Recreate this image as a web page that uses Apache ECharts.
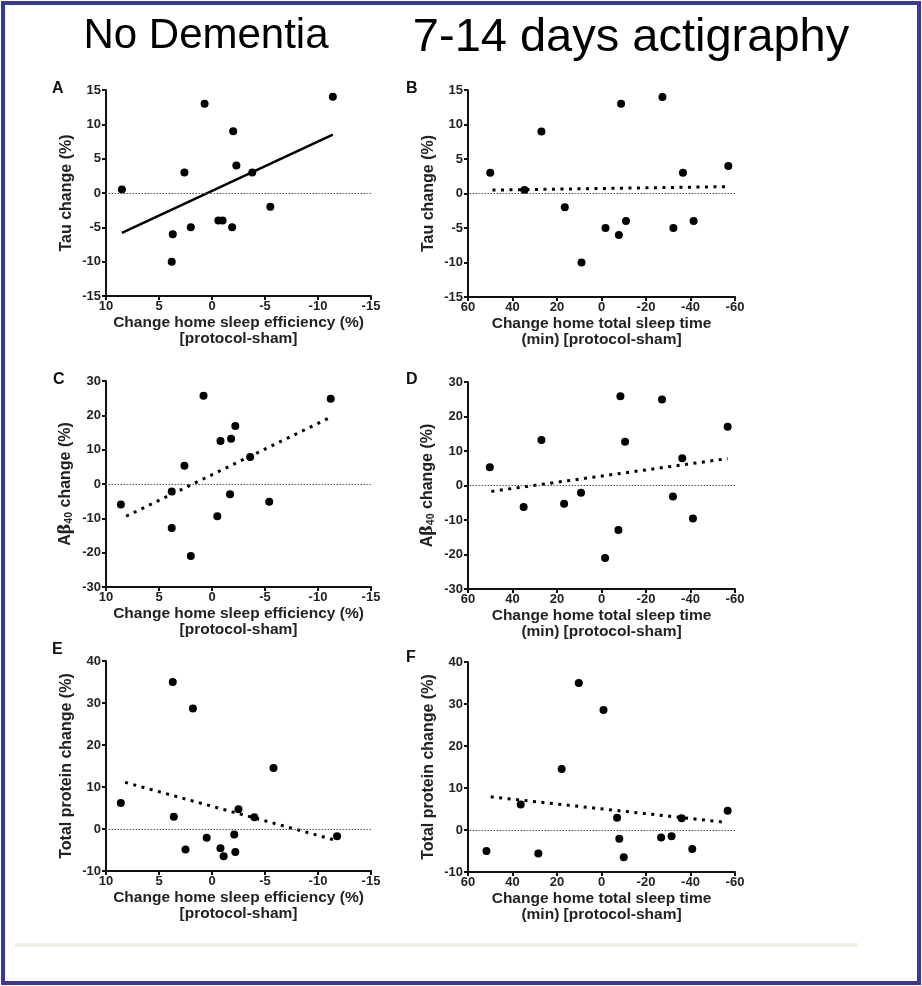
<!DOCTYPE html>
<html>
<head>
<meta charset="utf-8">
<title>No Dementia - 7-14 days actigraphy</title>
<script src="https://cdn.jsdelivr.net/npm/echarts@6/dist/echarts.min.js"></script>
<style>
html, body { margin: 0; padding: 0; background: #fff; }
#main { width: 922px; height: 986px; }
</style>
</head>
<body>
<div id="main"></div>
<script>
// A: change home sleep efficiency (%) vs tau change (%)
const effA = [8.5, 0.7, -11.4, -2.0, -2.3, 2.6, -3.8, -5.5, -0.6, -1.0, 2.0, -1.9, 3.7, 3.8];
const tauA = [0.5, 13, 14, 9, 4, 3, 3, -2, -4, -4, -5, -5, -6, -10];
const fitA = [[8.5, -5.8], [-11.4, 8.5]];

// B: change home total sleep time (min) vs tau change (%)
const tstB = [50, 34.6, 27, -8.8, -27.4, -57, -36.6, 16.5, -1.8, -7.8, -11, -32.3, -41.4, 9];
const tauB = [3, 0.5, 9, 13, 14, 4, 3, -2, -5, -6, -4, -5, -4, -10];
const fitB = [[49, 0.5], [-56.7, 1.0]];

// C: sleep efficiency vs Abeta40 change (%)
const effC = [8.6, 0.8, -11.2, -2.2, -1.8, -0.8, 2.6, -3.6, 3.8, -1.7, -5.4, -0.5, 3.8, 2.0];
const abC = [-6, 25.7, 24.8, 16.9, 13.2, 12.5, 5.3, 7.9, -2.2, -3, -5.2, -9.4, -12.8, -21];
const fitC = [[8.1, -9.4], [-11.1, 19.3]];

// D: total sleep time vs Abeta40 change (%)
const tstD = [50.2, 35, 27, 16.8, 9.2, -8.5, -10.6, -27.2, -56.7, -36.3, -32.1, -41.1, -7.6, -1.6];
const abD = [5.3, -6.2, 13.2, -5.3, -2.1, 25.9, 12.7, 24.9, 17, 7.9, -3.2, -9.6, -12.9, -21];
const fitD = [[49.5, -1.7], [-56.7, 7.8]];

// E: sleep efficiency vs total protein change (%)
const effE = [8.6, 3.7, 1.8, -5.8, 3.6, -2.5, -4.0, -11.8, 0.5, -2.1, 2.5, -0.8, -2.2, -1.1];
const protE = [6.2, 35, 28.7, 14.5, 2.9, 4.7, 2.8, -1.7, -2.1, -1.3, -4.9, -4.6, -5.5, -6.5];
const fitE = [[8.2, 11.1], [-11.7, -2.7]];

// F: total sleep time vs total protein change (%)
const tstF = [10.2, -0.9, 17.9, 36.3, -7, -36, -56.7, -8, -26.8, -31.5, 51.7, 28.4, -40.8, -10];
const protF = [35, 28.6, 14.5, 6.1, 2.9, 2.8, 4.6, -2.1, -1.8, -1.5, -5, -5.6, -4.5, -6.5];
const fitF = [[49.8, 7.9], [-56.3, 1.8]];

const effTicks = { min: -15, max: 10, interval: 5 };
const tstTicks = { min: -60, max: 60, interval: 20 };
const tauTicks = { min: -15, max: 15, interval: 5 };
const abTicks = { min: -30, max: 30, interval: 10 };
const protTicks = { min: -10, max: 40, interval: 10 };

const effName = 'Change home sleep efficiency (%)\n[protocol-sham]';
const tstName = 'Change home total sleep time\n(min) [protocol-sham]';

const FONT = 'Liberation Sans';
const INK = '#111';

const grids = [
    { left: 106, top: 90, width: 265, height: 206 },
    { left: 468, top: 90, width: 267, height: 207 },
    { left: 106, top: 381, width: 265, height: 206 },
    { left: 468, top: 382, width: 267, height: 207 },
    { left: 106, top: 661, width: 265, height: 210 },
    { left: 468, top: 662, width: 267, height: 210 }
];

const xAxes = [];
const yAxes = [];
const series = [];

const addPanel = (i, xt, yt, xName, yName, xs, ys, fit, dotted) => {
    xAxes.push({
        gridIndex: i,
        type: 'value',
        inverse: true,
        min: xt.min, max: xt.max, interval: xt.interval,
        axisLine: { onZero: false, lineStyle: { color: INK, width: 2 } },
        axisTick: { length: 4, lineStyle: { color: INK, width: 2 } },
        axisLabel: { fontSize: 13, fontWeight: 'bold', color: '#222', fontFamily: FONT, margin: 4 },
        splitLine: { show: false },
        name: xName,
        nameLocation: 'middle',
        nameGap: 19,
        nameTextStyle: { fontSize: 15.5, fontWeight: 'bold', color: '#222', fontFamily: FONT, lineHeight: 16 }
    });
    yAxes.push({
        gridIndex: i,
        type: 'value',
        min: yt.min, max: yt.max, interval: yt.interval,
        axisLine: { show: true, onZero: false, lineStyle: { color: INK, width: 2 } },
        axisTick: { show: true, length: 4, lineStyle: { color: INK, width: 2 } },
        axisLabel: { fontSize: 13, fontWeight: 'bold', color: '#222', fontFamily: FONT, margin: 5 },
        splitLine: { show: false },
        name: yName,
        nameLocation: 'middle',
        nameRotate: 90,
        nameGap: 31,
        nameTextStyle: {
            fontSize: 16, fontWeight: 'bold', color: '#222', fontFamily: FONT,
            rich: {
                b: { fontSize: 16, fontFamily: 'DejaVu Serif', color: '#222' },
                sub: { fontSize: 10.5, fontWeight: 'bold', fontFamily: FONT, color: '#222', verticalAlign: 'bottom', padding: [8, 0, 0, 0] }
            }
        }
    });
    series.push({
        type: 'scatter',
        xAxisIndex: i, yAxisIndex: i,
        symbol: 'circle',
        symbolSize: 8,
        itemStyle: { color: '#000', opacity: 1 },
        data: xs.map((x, k) => [x, ys[k]]),
        markLine: {
            silent: true,
            symbol: ['none', 'none'],
            label: { show: false },
            lineStyle: { color: '#555', width: 1, type: [1.5, 1.5] },
            data: [{ yAxis: 0 }]
        },
        z: 3
    });
    series.push({
        type: 'line',
        xAxisIndex: i, yAxisIndex: i,
        showSymbol: false,
        lineStyle: dotted
            ? { color: '#000', width: 3, type: [3, 5.5], cap: 'butt' }
            : { color: '#000', width: 2.5 },
        data: fit,
        z: 4
    });
};

addPanel(0, effTicks, tauTicks, effName, 'Tau change (%)', effA, tauA, fitA, false);
addPanel(1, tstTicks, tauTicks, tstName, 'Tau change (%)', tstB, tauB, fitB, true);
addPanel(2, effTicks, abTicks, effName, 'A{b|β}{sub|40} change (%)', effC, abC, fitC, true);
addPanel(3, tstTicks, abTicks, tstName, 'A{b|β}{sub|40} change (%)', tstD, abD, fitD, true);
addPanel(4, effTicks, protTicks, effName, 'Total protein change (%)', effE, protE, fitE, true);
addPanel(5, tstTicks, protTicks, tstName, 'Total protein change (%)', tstF, protF, fitF, true);

// panel letters
const letters = [['A', 52, 81], ['B', 406, 81], ['C', 53, 372], ['D', 406, 372], ['E', 52, 642], ['F', 406, 650]];
const letterGraphics = letters.map(l => ({
    type: 'text',
    left: l[1], top: l[2],
    style: { text: l[0], fontSize: 16, fontWeight: 'bold', fontFamily: FONT, fill: '#111' }
}));

const chart = echarts.init(document.getElementById('main'));
const option = {
    backgroundColor: '#fff',
    animation: false,
    title: [
        { text: 'No Dementia', left: 201, top: 10, textAlign: 'center',
          textStyle: { fontSize: 42, fontWeight: 'normal', color: '#000', fontFamily: FONT } },
        { text: '7-14 days actigraphy', left: 626, top: 10, textAlign: 'center',
          textStyle: { fontSize: 47, fontWeight: 'normal', color: '#000', fontFamily: FONT } }
    ],
    grid: grids,
    xAxis: xAxes,
    yAxis: yAxes,
    series: series,
    graphic: [
        { type: 'rect', shape: { x: 15, y: 943, width: 843, height: 4 },
          style: { fill: '#f3eee2' }, silent: true },
        { type: 'rect', shape: { x: 3, y: 3, width: 916, height: 980 },
          style: { fill: 'none', stroke: '#38389b', lineWidth: 4 }, silent: true }
    ].concat(letterGraphics)
};
chart.setOption(option);
window.addEventListener('resize', () => {
    chart.resize();
});
</script>
</body>
</html>
